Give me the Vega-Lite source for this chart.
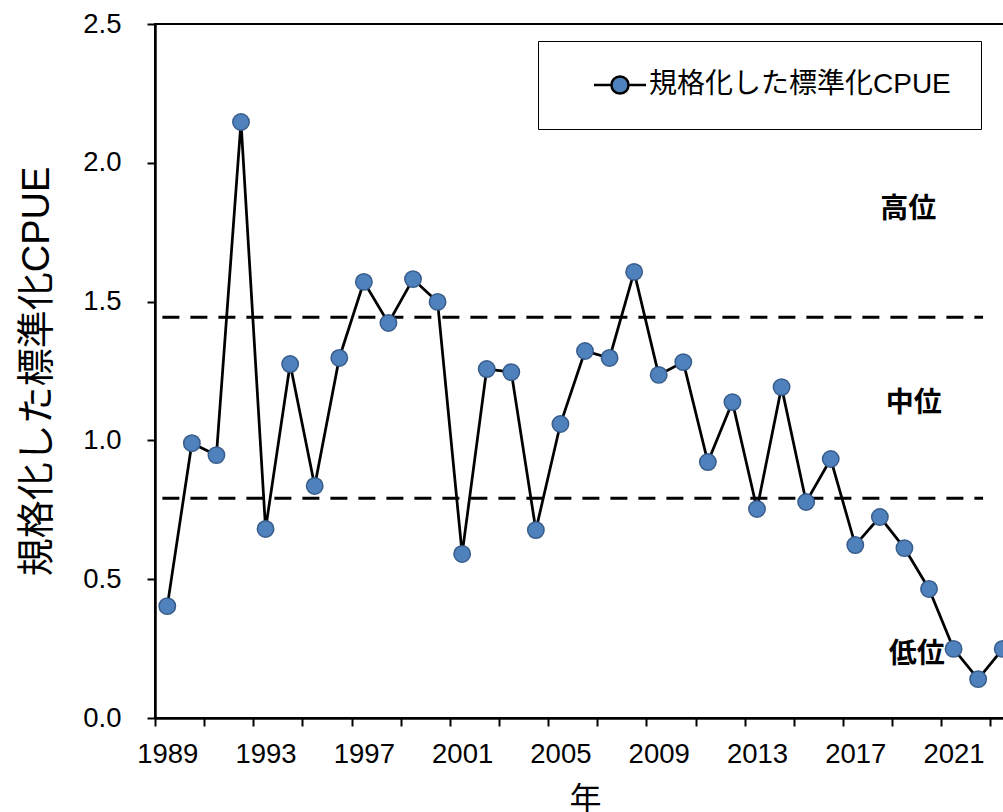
{
  "$schema": "https://vega.github.io/schema/vega-lite/v6.json",
  "autosize": {"type": "none"},
  "padding": {"left": 155, "top": 24, "right": 0, "bottom": 94},
  "width": 860,
  "height": 694,
  "background": "white",
  "config": {
    "view": {"stroke": "black", "strokeWidth": 2},
    "font": "Liberation Sans"
  },
  "datasets": {
    "cpue": [
      {"year": 1989, "cpue": 0.403},
      {"year": 1990, "cpue": 0.99},
      {"year": 1991, "cpue": 0.947},
      {"year": 1992, "cpue": 2.147},
      {"year": 1993, "cpue": 0.681},
      {"year": 1994, "cpue": 1.275},
      {"year": 1995, "cpue": 0.836},
      {"year": 1996, "cpue": 1.297},
      {"year": 1997, "cpue": 1.571},
      {"year": 1998, "cpue": 1.423},
      {"year": 1999, "cpue": 1.581},
      {"year": 2000, "cpue": 1.499},
      {"year": 2001, "cpue": 0.591},
      {"year": 2002, "cpue": 1.257},
      {"year": 2003, "cpue": 1.246},
      {"year": 2004, "cpue": 0.677},
      {"year": 2005, "cpue": 1.059},
      {"year": 2006, "cpue": 1.322},
      {"year": 2007, "cpue": 1.297},
      {"year": 2008, "cpue": 1.607},
      {"year": 2009, "cpue": 1.236},
      {"year": 2010, "cpue": 1.282},
      {"year": 2011, "cpue": 0.922},
      {"year": 2012, "cpue": 1.138},
      {"year": 2013, "cpue": 0.753},
      {"year": 2014, "cpue": 1.192},
      {"year": 2015, "cpue": 0.778},
      {"year": 2016, "cpue": 0.933},
      {"year": 2017, "cpue": 0.623},
      {"year": 2018, "cpue": 0.724},
      {"year": 2019, "cpue": 0.612},
      {"year": 2020, "cpue": 0.465},
      {"year": 2021, "cpue": 0.249},
      {"year": 2022, "cpue": 0.14},
      {"year": 2023, "cpue": 0.249}
    ],
    "thresholds": [
      {"y": 1.444, "x": 1988.8, "x2": 2022.2},
      {"y": 0.792, "x": 1988.8, "x2": 2022.2}
    ],
    "zones": [
      {"label": "高位", "x": 2019.16, "y": 1.83},
      {"label": "中位", "x": 2019.38, "y": 1.131},
      {"label": "低位", "x": 2019.5, "y": 0.227}
    ]
  },
  "layer": [
    {
      "data": {"name": "thresholds"},
      "mark": {"type": "rule", "color": "black", "strokeWidth": 3, "strokeDash": [17, 11]},
      "encoding": {
        "x": {"field": "x", "type": "quantitative", "scale": {"domain": [1988.5, 2023.5], "nice": false, "zero": false}},
        "x2": {"field": "x2"},
        "y": {"field": "y", "type": "quantitative", "scale": {"domain": [0, 2.5], "nice": false, "zero": false}}
      }
    },
    {
      "data": {"name": "cpue"},
      "mark": {"type": "line", "color": "black", "strokeWidth": 2.75},
      "encoding": {
        "x": {
          "field": "year", "type": "quantitative",
          "scale": {"domain": [1988.5, 2023.5], "nice": false, "zero": false},
          "axis": {
            "title": "年",
            "titleFont": "Noto Sans CJK JP",
            "titleFontSize": 32,
            "titleFontWeight": "normal",
            "titleColor": "black",
            "titlePadding": 17,
            "values": [1988.5, 1989.5, 1990.5, 1991.5, 1992.5, 1993.5, 1994.5, 1995.5, 1996.5, 1997.5, 1998.5, 1999.5, 2000.5, 2001.5, 2002.5, 2003.5, 2004.5, 2005.5, 2006.5, 2007.5, 2008.5, 2009.5, 2010.5, 2011.5, 2012.5, 2013.5, 2014.5, 2015.5, 2016.5, 2017.5, 2018.5, 2019.5, 2020.5, 2021.5, 2022.5, 2023.5],
            "labelExpr": "(datum.value - 0.5) % 4 == 0 ? toString(datum.value + 0.5) : ''",
            "labelOffset": 12.28,
            "labelOverlap": false,
            "labelFlush": false,
            "labelBound": false,
            "labelFont": "Liberation Sans",
            "labelFontSize": 27.5,
            "labelColor": "black",
            "labelPadding": 14,
            "tickSize": 8,
            "tickWidth": 2,
            "tickColor": "black",
            "domainColor": "black",
            "domainWidth": 2.5,
            "grid": false
          }
        },
        "y": {
          "field": "cpue", "type": "quantitative",
          "scale": {"domain": [0, 2.5], "nice": false, "zero": false},
          "axis": {
            "title": "規格化した標準化CPUE",
            "titleFont": "Liberation Sans, Noto Sans CJK JP",
            "titleFontSize": 38,
            "titleFontWeight": "normal",
            "titleColor": "black",
            "titlePadding": 26,
            "values": [0, 0.5, 1, 1.5, 2, 2.5],
            "format": ".1f",
            "labelFont": "Liberation Sans",
            "labelFontSize": 27.5,
            "labelColor": "black",
            "labelPadding": 26,
            "tickSize": 8,
            "tickWidth": 2,
            "tickColor": "black",
            "domainColor": "black",
            "domainWidth": 2.5,
            "grid": false
          }
        }
      }
    },
    {
      "data": {"name": "cpue"},
      "mark": {"type": "point", "shape": "circle", "filled": true, "size": 270, "stroke": "#385D8A", "strokeWidth": 1.5, "opacity": 1},
      "encoding": {
        "x": {"field": "year", "type": "quantitative"},
        "y": {"field": "cpue", "type": "quantitative"},
        "color": {
          "datum": "規格化した標準化CPUE",
          "scale": {"range": ["#4F81BD"]},
          "legend": {
            "title": null,
            "orient": "none",
            "legendX": 383,
            "legendY": 17,
            "padding": 30,
            "strokeColor": "black",
            "fillColor": "white",
            "symbolType": "M-2.9,0L-0.95,0M0.95,0L2.9,0M-0.95,0A0.95,0.95 0 1 1 0.95,0A0.95,0.95 0 1 1 -0.95,0Z",
            "symbolSize": 324,
            "symbolOffset": 38,
            "symbolStrokeColor": "black",
            "symbolStrokeWidth": 2.5,
            "symbolOpacity": 1,
            "labelOffset": 15,
            "labelFont": "Liberation Sans, Noto Sans CJK JP",
            "labelFontSize": 28,
            "labelColor": "black",
            "labelLimit": 600
          }
        }
      }
    },
    {
      "data": {"name": "zones"},
      "mark": {"type": "text", "font": "Noto Sans CJK JP", "fontWeight": "bold", "fontSize": 28, "color": "black", "align": "center", "baseline": "middle"},
      "encoding": {
        "x": {"field": "x", "type": "quantitative"},
        "y": {"field": "y", "type": "quantitative"},
        "text": {"field": "label"}
      }
    }
  ]
}
